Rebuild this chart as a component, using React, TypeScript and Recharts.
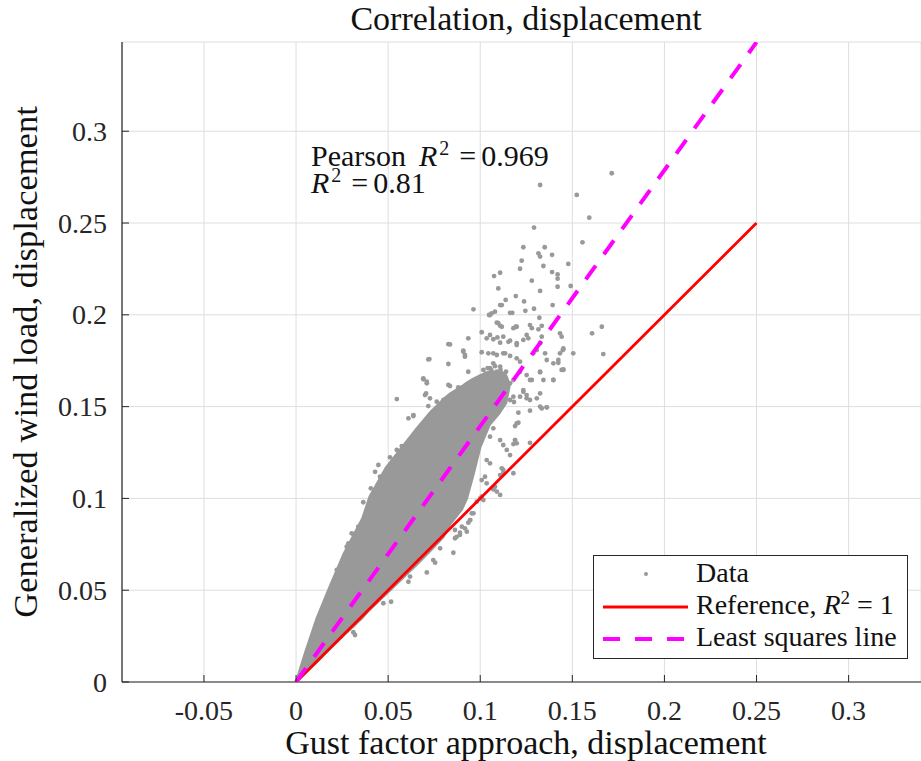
import React from 'react';
import { ComposedChart, Area, Scatter, XAxis, YAxis, CartesianGrid, Legend, Customized } from 'recharts';

const FONT = "'Liberation Serif', 'Times New Roman', serif";
const INK = '#262626';
const GRAY = '#999999';

// Axis limits and ticks
const X_MIN = -0.0945;
const X_MAX = 0.3393;
const Y_MAX = 0.3486;
const xTicks = [-0.05, 0, 0.05, 0.1, 0.15, 0.2, 0.25, 0.3];
const yTicks = [0, 0.05, 0.1, 0.15, 0.2, 0.25, 0.3];

// Dense core of the scatter cloud (envelope)
const coreX = [0, 0.005, 0.011, 0.0175, 0.026, 0.036, 0.04, 0.049, 0.0655, 0.073, 0.08, 0.0836, 0.09, 0.0927, 0.096, 0.1, 0.105, 0.11, 0.114, 0.116];
const coreLow = [0, 0.0048, 0.0106, 0.0172, 0.0255, 0.035, 0.0395, 0.048, 0.064, 0.0715, 0.079, 0.086, 0.094, 0.1, 0.112, 0.128, 0.14, 0.146, 0.152, 0.162];
const coreHigh = [0, 0.016, 0.034, 0.05, 0.07, 0.089, 0.101, 0.117, 0.138, 0.147, 0.154, 0.157, 0.161, 0.163, 0.165, 0.167, 0.169, 0.169, 0.167, 0.162];

// Individually visible data points
const ptX = [
  0.1714, 0.1325, 0.1524, 0.1592, 0.1292, 0.1555, 0.1234, 0.135, 0.1316, 0.1325,
  0.139, 0.1225, 0.1478, 0.1343, 0.1216, 0.1108, 0.1075, 0.139, 0.142, 0.142,
  0.128, 0.1098, 0.142, 0.1491, 0.1325, 0.1193, 0.1138, 0.1117, 0.1238, 0.1393,
  0.1292, 0.0963, 0.108, 0.1053, 0.1245, 0.1174, 0.1321, 0.1334, 0.109, 0.1108,
  0.1193, 0.118, 0.128, 0.166, 0.1607, 0.1433, 0.1008, 0.1053, 0.1035, 0.0935,
  0.0827, 0.1125, 0.1153, 0.1108, 0.1252, 0.1261, 0.1234, 0.1334, 0.1198, 0.0908,
  0.0917, 0.1008, 0.1071, 0.1135, 0.1448, 0.1505, 0.1668, 0.0724, 0.1451, 0.1433,
  0.1352, 0.0827, 0.1424, 0.1451, 0.1325, 0.1397, 0.128, 0.0691, 0.071, 0.0827,
  0.0547, 0.0706, 0.1325, 0.1307, 0.1234, 0.1252, 0.1183, 0.1361, 0.1334, 0.127,
  0.1207, 0.0718, 0.0745, 0.061, 0.0637, 0.08, 0.1207, 0.1189, 0.1071, 0.1053,
  0.1189, 0.118, 0.127, 0.0664, 0.0691, 0.0574, 0.0547, 0.051, 0.0528, 0.1162,
  0.1117, 0.1125, 0.0447, 0.0429, 0.0456, 0.0406, 0.0365, 0.1035, 0.1071, 0.1108,
  0.1008, 0.1017, 0.0963, 0.0945, 0.09, 0.0927, 0.0872, 0.0302, 0.0338, 0.0935,
  0.089, 0.0863, 0.0854, 0.0782, 0.0745, 0.0755, 0.071, 0.0619, 0.061, 0.0516,
  0.0474, 0.0311, 0.032, 0.0311, 0.0284, 0.0275, 0.0221, 0.023, 0.0185, 0.1442,
  0.1108, 0.1048, 0.1062, 0.1162, 0.1098, 0.1117, 0.1198, 0.127, 0.1316, 0.1071,
  0.1093, 0.1162, 0.1198, 0.0836, 0.1325, 0.1307, 0.1288, 0.1442, 0.1451, 0.1044,
  0.109, 0.1125, 0.0908, 0.0917, 0.0718, 0.1162, 0.1198, 0.1216, 0.1361, 0.1397,
  0.1424, 0.1071, 0.1108, 0.1053, 0.1017, 0.103, 0.106, 0.109, 0.112, 0.104,
  0.108, 0.111, 0.114, 0.0935, 0.1216, 0.1252, 0.1325, 0.1451, 0.0691, 0.071,
  0.118, 0.1162, 0.127, 0.1343, 0.1397, 0.0836, 0.0881, 0.0908, 0.0954, 0.0981,
  0.07, 0.0727, 0.0764, 0.08, 0.1234, 0.1252, 0.1216, 0.118, 0.1162, 0.127,
  0.1325, 0.1361, 0.0637, 0.1198, 0.1108, 0.1125, 0.1144, 0.1189, 0.1198, 0.118,
  0.1125, 0.1108, 0.108, 0.109, 0.0981, 0.0999, 0.0954, 0.0945, 0.0917, 0.089,
  0.0863, 0.1035, 0.1053, 0.1008, 0.1026,
];
const ptY = [
  0.2771, 0.2707, 0.2653, 0.2529, 0.2475, 0.2395, 0.2368, 0.2368, 0.2335, 0.2317,
  0.2327, 0.2295, 0.2277, 0.2266, 0.2251, 0.2229, 0.2211, 0.2233, 0.222, 0.2197,
  0.2186, 0.2144, 0.2153, 0.2157, 0.213, 0.2102, 0.2081, 0.2053, 0.2073, 0.2053,
  0.2033, 0.203, 0.2017, 0.1999, 0.2022, 0.2011, 0.1984, 0.194, 0.1957, 0.194,
  0.1935, 0.1927, 0.1927, 0.1935, 0.1899, 0.1899, 0.1905, 0.189, 0.1872, 0.1872,
  0.184, 0.1881, 0.1853, 0.1848, 0.189, 0.1872, 0.1863, 0.1881, 0.1835, 0.1805,
  0.1781, 0.1796, 0.179, 0.179, 0.1808, 0.179, 0.1786, 0.1759, 0.1817, 0.179,
  0.179, 0.1732, 0.1739, 0.1703, 0.1687, 0.1645, 0.1645, 0.1649, 0.1627, 0.1618,
  0.1541, 0.1572, 0.1572, 0.1545, 0.1581, 0.1545, 0.1525, 0.1496, 0.149, 0.1478,
  0.1467, 0.1503, 0.1472, 0.1436, 0.1449, 0.1472, 0.1412, 0.1394, 0.1382, 0.1336,
  0.1318, 0.1296, 0.1303, 0.1367, 0.1345, 0.1285, 0.1264, 0.1224, 0.12, 0.1236,
  0.1164, 0.1136, 0.1182, 0.1145, 0.1118, 0.1055, 0.0979, 0.1082, 0.1049, 0.1019,
  0.1009, 0.0991, 0.0919, 0.0882, 0.0846, 0.0819, 0.0791, 0.081, 0.0846, 0.0868,
  0.0813, 0.0783, 0.0704, 0.0728, 0.0664, 0.065, 0.0597, 0.0574, 0.0546, 0.0437,
  0.0429, 0.0271, 0.0256, 0.0806, 0.0755, 0.0737, 0.061, 0.0592, 0.0492, 0.17,
  0.2053, 0.1999, 0.2008, 0.2011, 0.1954, 0.1935, 0.1935, 0.1944, 0.1921, 0.1867,
  0.1877, 0.1859, 0.1845, 0.1839, 0.1845, 0.1808, 0.179, 0.1881, 0.1812, 0.179,
  0.1781, 0.179, 0.1799, 0.1772, 0.1757, 0.1776, 0.1763, 0.1745, 0.1754, 0.1736,
  0.1754, 0.1736, 0.1717, 0.1709, 0.17, 0.168, 0.17, 0.169, 0.168, 0.171,
  0.172, 0.17, 0.169, 0.169, 0.169, 0.1672, 0.169, 0.17, 0.1654, 0.1636,
  0.1645, 0.1627, 0.1645, 0.1645, 0.1645, 0.1612, 0.1605, 0.1594, 0.1599, 0.159,
  0.1563, 0.1545, 0.1527, 0.1536, 0.159, 0.1563, 0.1554, 0.1554, 0.1536, 0.1536,
  0.15, 0.1496, 0.1454, 0.1409, 0.1318, 0.1291, 0.1264, 0.1318, 0.13, 0.1137,
  0.1155, 0.1127, 0.1064, 0.1037, 0.0982, 0.1, 0.0919, 0.0882, 0.0837, 0.0801,
  0.0828, 0.1209, 0.1191, 0.11, 0.1118,
];

// Reference line (R^2 = 1) and least squares line
const refX = [0, 0.25];
const refY = [0, 0.25];
const lsX = [0, 0.25];
const lsY = [0, 0.3485];

const coreData = coreX.map((x, i) => ({ x, band: [coreLow[i], coreHigh[i]] }));
const pointData = ptX.map((x, i) => ({ x, y: ptY[i] }));
const refData = refX.map((x, i) => ({ x, y: refY[i] }));
const lsData = lsX.map((x, i) => ({ x, y: lsY[i] }));

const XTick = (props: any) => {
  const { x, y, payload } = props;
  return (
    <g>
      <line x1={x} y1={y} x2={x} y2={y - 7} stroke={INK} strokeWidth={1} />
      <text x={x} y={y + 38} textAnchor="middle" fontFamily={FONT} fontSize={28} fill={INK}>
        {String(payload.value)}
      </text>
    </g>
  );
};

const YTick = (props: any) => {
  const { x, y, payload } = props;
  return (
    <g>
      <line x1={x} y1={y} x2={x + 7} y2={y} stroke={INK} strokeWidth={1} />
      <text x={x - 15} y={y + 9.5} textAnchor="end" fontFamily={FONT} fontSize={28} fill={INK}>
        {String(payload.value)}
      </text>
    </g>
  );
};

const Texts = () => (
  <g fontFamily={FONT} fill="#111">
    <text x={526} y={30} textAnchor="middle" fontSize={34}>Correlation, displacement</text>
    <text x={526} y={754} textAnchor="middle" fontSize={34}>Gust factor approach, displacement</text>
    <text transform="translate(37,362) rotate(-90)" textAnchor="middle" fontSize={34.5}>
      Generalized wind load, displacement
    </text>
    <text x={311} y={166} fontSize={30}>
      Pearson
      <tspan dx={13} fontStyle="italic">R</tspan>
      <tspan dx={2} dy={-11} fontSize={20}>2</tspan>
      <tspan dx={10} dy={11}>=</tspan>
      <tspan dx={5}>0.969</tspan>
    </text>
    <text x={311} y={193} fontSize={30}>
      <tspan fontStyle="italic">R</tspan>
      <tspan dx={2} dy={-11} fontSize={20}>2</tspan>
      <tspan dx={10} dy={11}>=</tspan>
      <tspan dx={5}>0.81</tspan>
    </text>
  </g>
);

const LegendBox = () => (
  <svg width={316} height={105} style={{ display: 'block' }}>
    <rect x={0.5} y={0.5} width={314} height={103} fill="#fff" stroke={INK} strokeWidth={1} />
    <circle cx={53} cy={19} r={2} fill={GRAY} />
    <line x1={10} y1={52} x2={95} y2={52} stroke="#ff0000" strokeWidth={3} />
    <line x1={10} y1={84} x2={94} y2={84} stroke="#ff00ff" strokeWidth={4} strokeDasharray="17 15" />
    <g fontFamily={FONT} fontSize={28} fill="#111">
      <text x={103} y={27}>Data</text>
      <text x={103} y={59}>
        {'Reference, '}
        <tspan fontStyle="italic">R</tspan>
        <tspan dy={-10} fontSize={19}>2</tspan>
        <tspan dy={10}>{' = 1'}</tspan>
      </text>
      <text x={103} y={91}>Least squares line</text>
    </g>
  </svg>
);

export default function App() {
  return (
    <div style={{ position: 'absolute', left: 0, top: 0, width: 921, height: 761, background: '#fff' }}>
      <ComposedChart
        width={921}
        height={761}
        data={coreData}
        margin={{ top: 42, right: 0, bottom: 0, left: 0 }}
      >
        <CartesianGrid stroke="#dedede" strokeWidth={1} />
        <XAxis
          dataKey="x"
          type="number"
          domain={[X_MIN, X_MAX]}
          ticks={xTicks}
          allowDataOverflow
          height={79}
          interval={0}
          tickSize={0}
          tickMargin={0}
          tickLine={false}
          axisLine={{ stroke: INK, strokeWidth: 1.2 }}
          tick={(p: any) => <XTick {...p} />}
        />
        <YAxis
          dataKey="y"
          type="number"
          domain={[0, Y_MAX]}
          ticks={yTicks}
          allowDataOverflow
          width={122}
          interval={0}
          tickSize={0}
          tickMargin={0}
          tickLine={false}
          axisLine={{ stroke: INK, strokeWidth: 1.2 }}
          tick={(p: any) => <YTick {...p} />}
        />
        <Area
          dataKey="band"
          type="linear"
          stroke={GRAY}
          strokeWidth={2.5}
          strokeLinejoin="round"
          fill={GRAY}
          fillOpacity={1}
          isAnimationActive={false}
          legendType="none"
          dot={false}
          activeDot={false}
        />
        <Scatter
          name="Data"
          data={pointData}
          fill={GRAY}
          shape={(p: any) => <circle cx={p.cx} cy={p.cy} r={2.4} fill={GRAY} />}
          isAnimationActive={false}
        />
        <Scatter
          name="Reference"
          data={refData}
          fill="#ff0000"
          line={{ stroke: '#ff0000', strokeWidth: 2.8 }}
          shape={() => <g />}
          isAnimationActive={false}
        />
        <Scatter
          name="Least squares line"
          data={lsData}
          fill="#ff00ff"
          line={{ stroke: '#ff00ff', strokeWidth: 4, strokeDasharray: '17 14' }}
          shape={() => <g />}
          isAnimationActive={false}
        />
        <Customized component={Texts} />
        <Legend
          layout="vertical"
          align="center"
          verticalAlign="middle"
          wrapperStyle={{ left: 593, top: 555, width: 316, height: 105 }}
          content={() => <LegendBox />}
        />
      </ComposedChart>
    </div>
  );
}
